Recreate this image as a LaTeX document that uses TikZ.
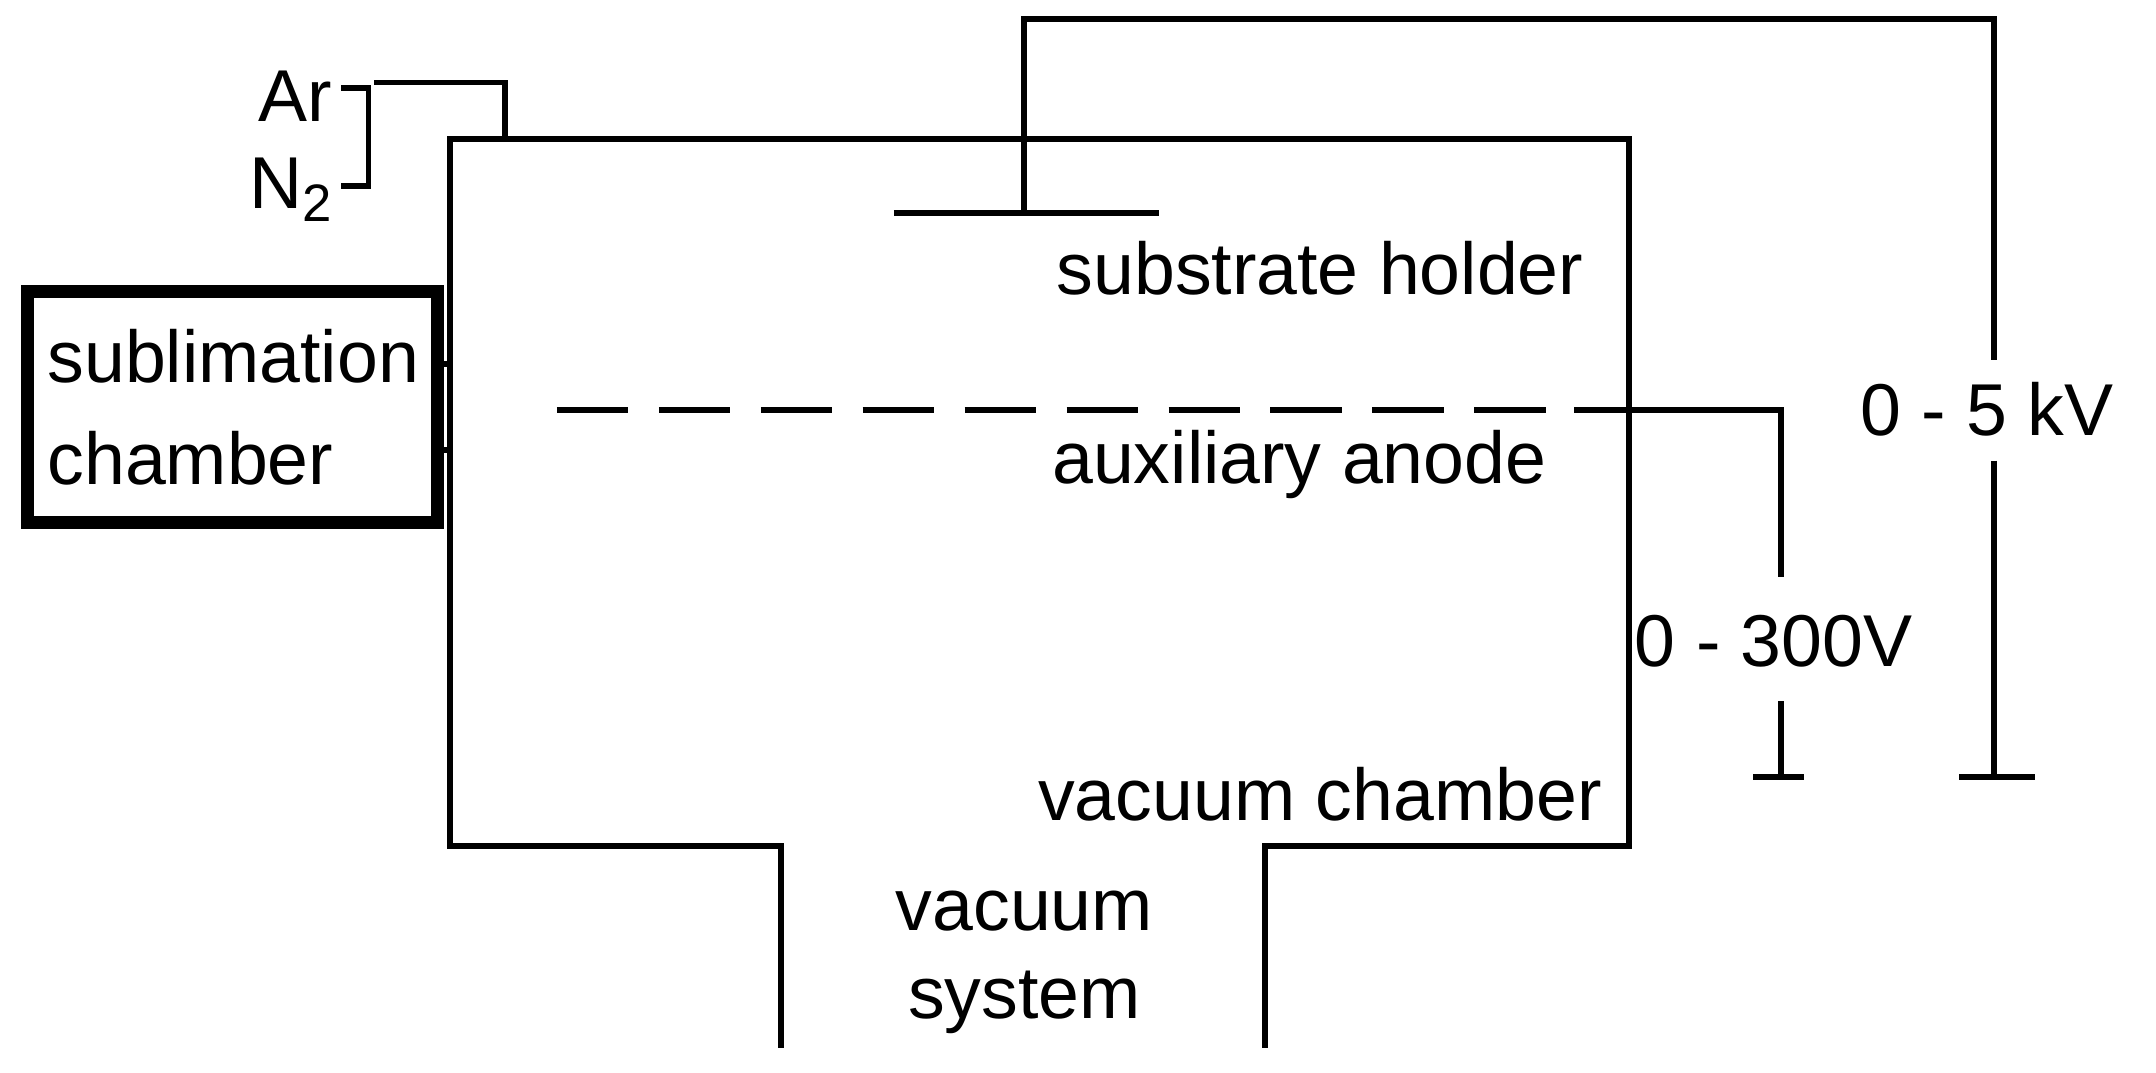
\documentclass[tikz,border=0pt]{standalone}
\usepackage{fontspec}
\setmainfont{Liberation Sans}
\begin{document}
\begin{tikzpicture}[x=0.01375cm,y=-0.01375cm,
  ln/.style={line width=1.65pt},
  lbl/.style={font=\fontsize{20.9}{25}\selectfont, inner sep=0pt}]
\useasboundingbox (0,0) rectangle (1568,780);
\coordinate (cTL) at (327,101); \coordinate (cTR) at (1185,101);
\coordinate (cBR) at (1185,615); \coordinate (cBL) at (327,615);
% vacuum chamber
\draw[ln] (568,762) -- (568,615) -- (cBL) -- (cTL) -- (cTR) -- (cBR) -- (920,615) -- (920,762);
% gas inlet
\draw[ln] (367,101) -- (367,60) -- (272,60);
\draw[ln] (248,64) -- (268,64) -- (268,135) -- (248,135);
\node[lbl,anchor=east] (ar) at (242,70) {Ar};
\node[lbl,anchor=east] (n2) at (242,138) {N\raisebox{-0.35ex}{\fontsize{15}{16}\selectfont 2}};
% substrate holder
\draw[ln] (650,155) -- (843,155);
\coordinate (sh) at (745,155);
\draw[ln] (sh) -- (745,14) -- (1450,14) -- (1450,262);
\node[lbl] (kv) at (1445,298) {0 - 5 kV};
\draw[ln] (1450,335) -- (1450,565);
\draw[ln] (1425,565) -- (1480,565);
\node[lbl] (shl) at (960,195) {substrate holder};
% auxiliary anode
\draw[ln,dash pattern=on 20.3pt off 8.7pt] (405,298) -- (1145,298);
\draw[ln] (1145,298) -- (1295,298) -- (1295,420);
\node[lbl] (v3) at (1290,466) {0 - 300V};
\draw[ln] (1295,510) -- (1295,565);
\draw[ln] (1275,565) -- (1312,565);
\node[lbl] (aal) at (945,338) {auxiliary anode};
\node[lbl] (vcl) at (960,578) {vacuum chamber};
\node[lbl,align=center] (vsl) at (745,700) {vacuum\\system};
% sublimation chamber
\node[draw,line width=3.6pt,minimum width=4.1cm,minimum height=2.31cm,inner sep=0pt] (sub) at (169,296) {};
\node[lbl,align=left,anchor=west] at (34,296) {sublimation\\[4pt]chamber};
\draw[ln] (318,265) -- (327,265);
\draw[ln] (318,327) -- (327,327);
\end{tikzpicture}
\end{document}
